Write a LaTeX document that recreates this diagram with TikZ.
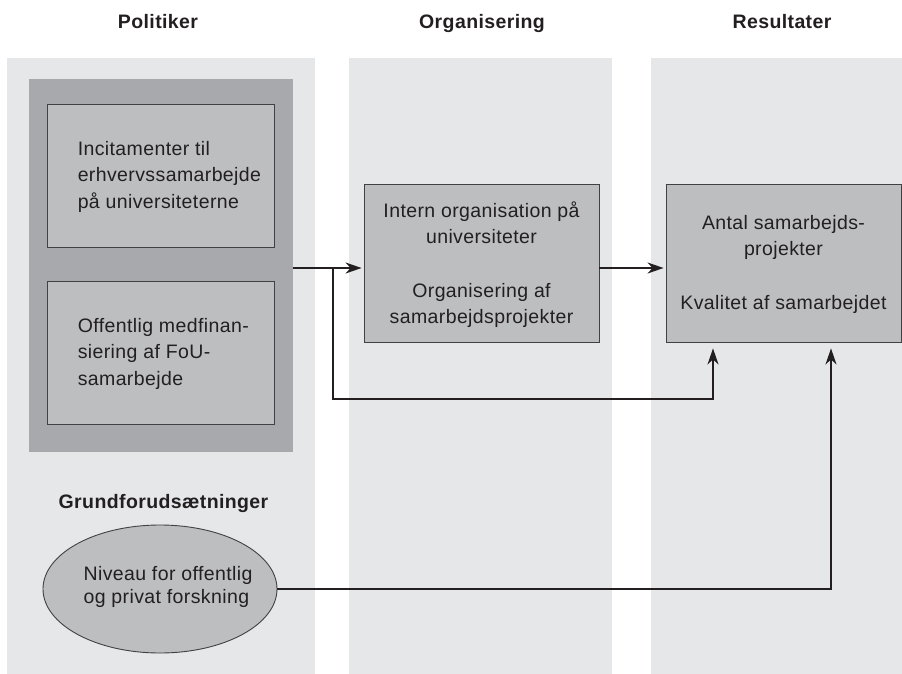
\documentclass[tikz,border=0pt]{standalone}
\usepackage{fontspec}
\setmainfont{Liberation Sans}[LetterSpace=2]
\usetikzlibrary{arrows.meta,shapes.geometric}
\definecolor{colbg}{HTML}{E6E7E8}
\definecolor{darkbox}{HTML}{A7A9AC}
\definecolor{boxfill}{HTML}{BCBEC0}
\definecolor{ink}{HTML}{231F20}
\definecolor{edge}{HTML}{414042}
\tikzset{
  colband/.style={fill=colbg, draw=none},
  box/.style={rectangle, fill=boxfill, draw=edge, line width=0.9pt, inner sep=0pt},
  txt/.style={text=ink, align=left, inner sep=0pt, font=\fontsize{19.5}{26.5}\selectfont},
  ctxt/.style={text=ink, align=center, inner sep=0pt, font=\fontsize{19.5}{26}\selectfont},
  hdr/.style={text=ink, inner sep=0pt, anchor=base, font=\fontsize{19.5}{22}\selectfont\bfseries},
  conn/.style={draw=ink, line width=1.3pt},
  arr/.style={conn, -{Stealth[length=16pt,width=11pt,inset=5pt]}, shorten >=2pt},
}
\begin{document}
\begin{tikzpicture}[x=1pt,y=-1pt]
\useasboundingbox (0,0) rectangle (902,674);
% column bands
\fill[colband] (7,58) rectangle (315,674);
\fill[colband] (349,58) rectangle (612,674);
\fill[colband] (651,58) rectangle (902,674);
% headers
\node[hdr] (hpol) at (158,29) {Politiker};
\node[hdr] (horg) at (482,29) {Organisering};
\node[hdr] (hres) at (782,29) {Resultater};
% politics group
\node[rectangle, fill=darkbox, draw=none, minimum width=264pt, minimum height=373pt, inner sep=0pt] (dark) at (161,265.5) {};
\node[box, minimum width=227pt, minimum height=143pt] (inc) at (160.5,175.5) {};
\node[txt, anchor=west] (inct) at ([xshift=31pt,yshift=-1pt]inc.west) {Incitamenter til\\erhvervssamarbejde\\på universiteterne};
\node[box, minimum width=227pt, minimum height=143pt] (off) at (160.5,352.5) {};
\node[txt, anchor=west] (offt) at ([xshift=31pt,yshift=-1pt]off.west) {Offentlig medfinan-\\siering af FoU-\\samarbejde};
% organisation box
\node[box, minimum width=235pt, minimum height=158pt] (mid) at (481.5,263) {};
\node[ctxt] (midt) at ([yshift=-1.5pt]mid.center) {Intern organisation på\\universiteter\\[28pt]Organisering af\\samarbejdsprojekter};
% results box
\node[box, minimum width=235pt, minimum height=158pt] (res) at (783.5,263) {};
\node[ctxt] (rest) at ([yshift=-1.5pt]res.center) {Antal samarbejds-\\projekter\\[28pt]Kvalitet af samarbejdet};
% basic conditions
\node[hdr] (hgrund) at (163.5,508) {Grundforudsætninger};
\node[ellipse, fill=boxfill, draw=edge, line width=0.9pt, minimum width=234pt, minimum height=128pt, inner sep=0pt] (ell) at (160,589) {};
\node[text=ink, align=left, inner sep=0pt, font=\fontsize{19.5}{23}\selectfont] (ellt) at (168,587) {Niveau for offentlig\\og privat forskning};
% connectors
\coordinate (split) at (333,268);
\coordinate (low) at (333,399);
\draw[arr] (dark.east |- split) -- (mid.west |- split);
\draw[arr] (mid.east |- split) -- (res.west |- split);
\draw[arr, shorten >=6pt] (split) -- (low) -| ([xshift=-70.5pt]res.south);
\draw[arr, shorten >=6pt] (ell.east) -| ([xshift=47.5pt]res.south);
\end{tikzpicture}
\end{document}
